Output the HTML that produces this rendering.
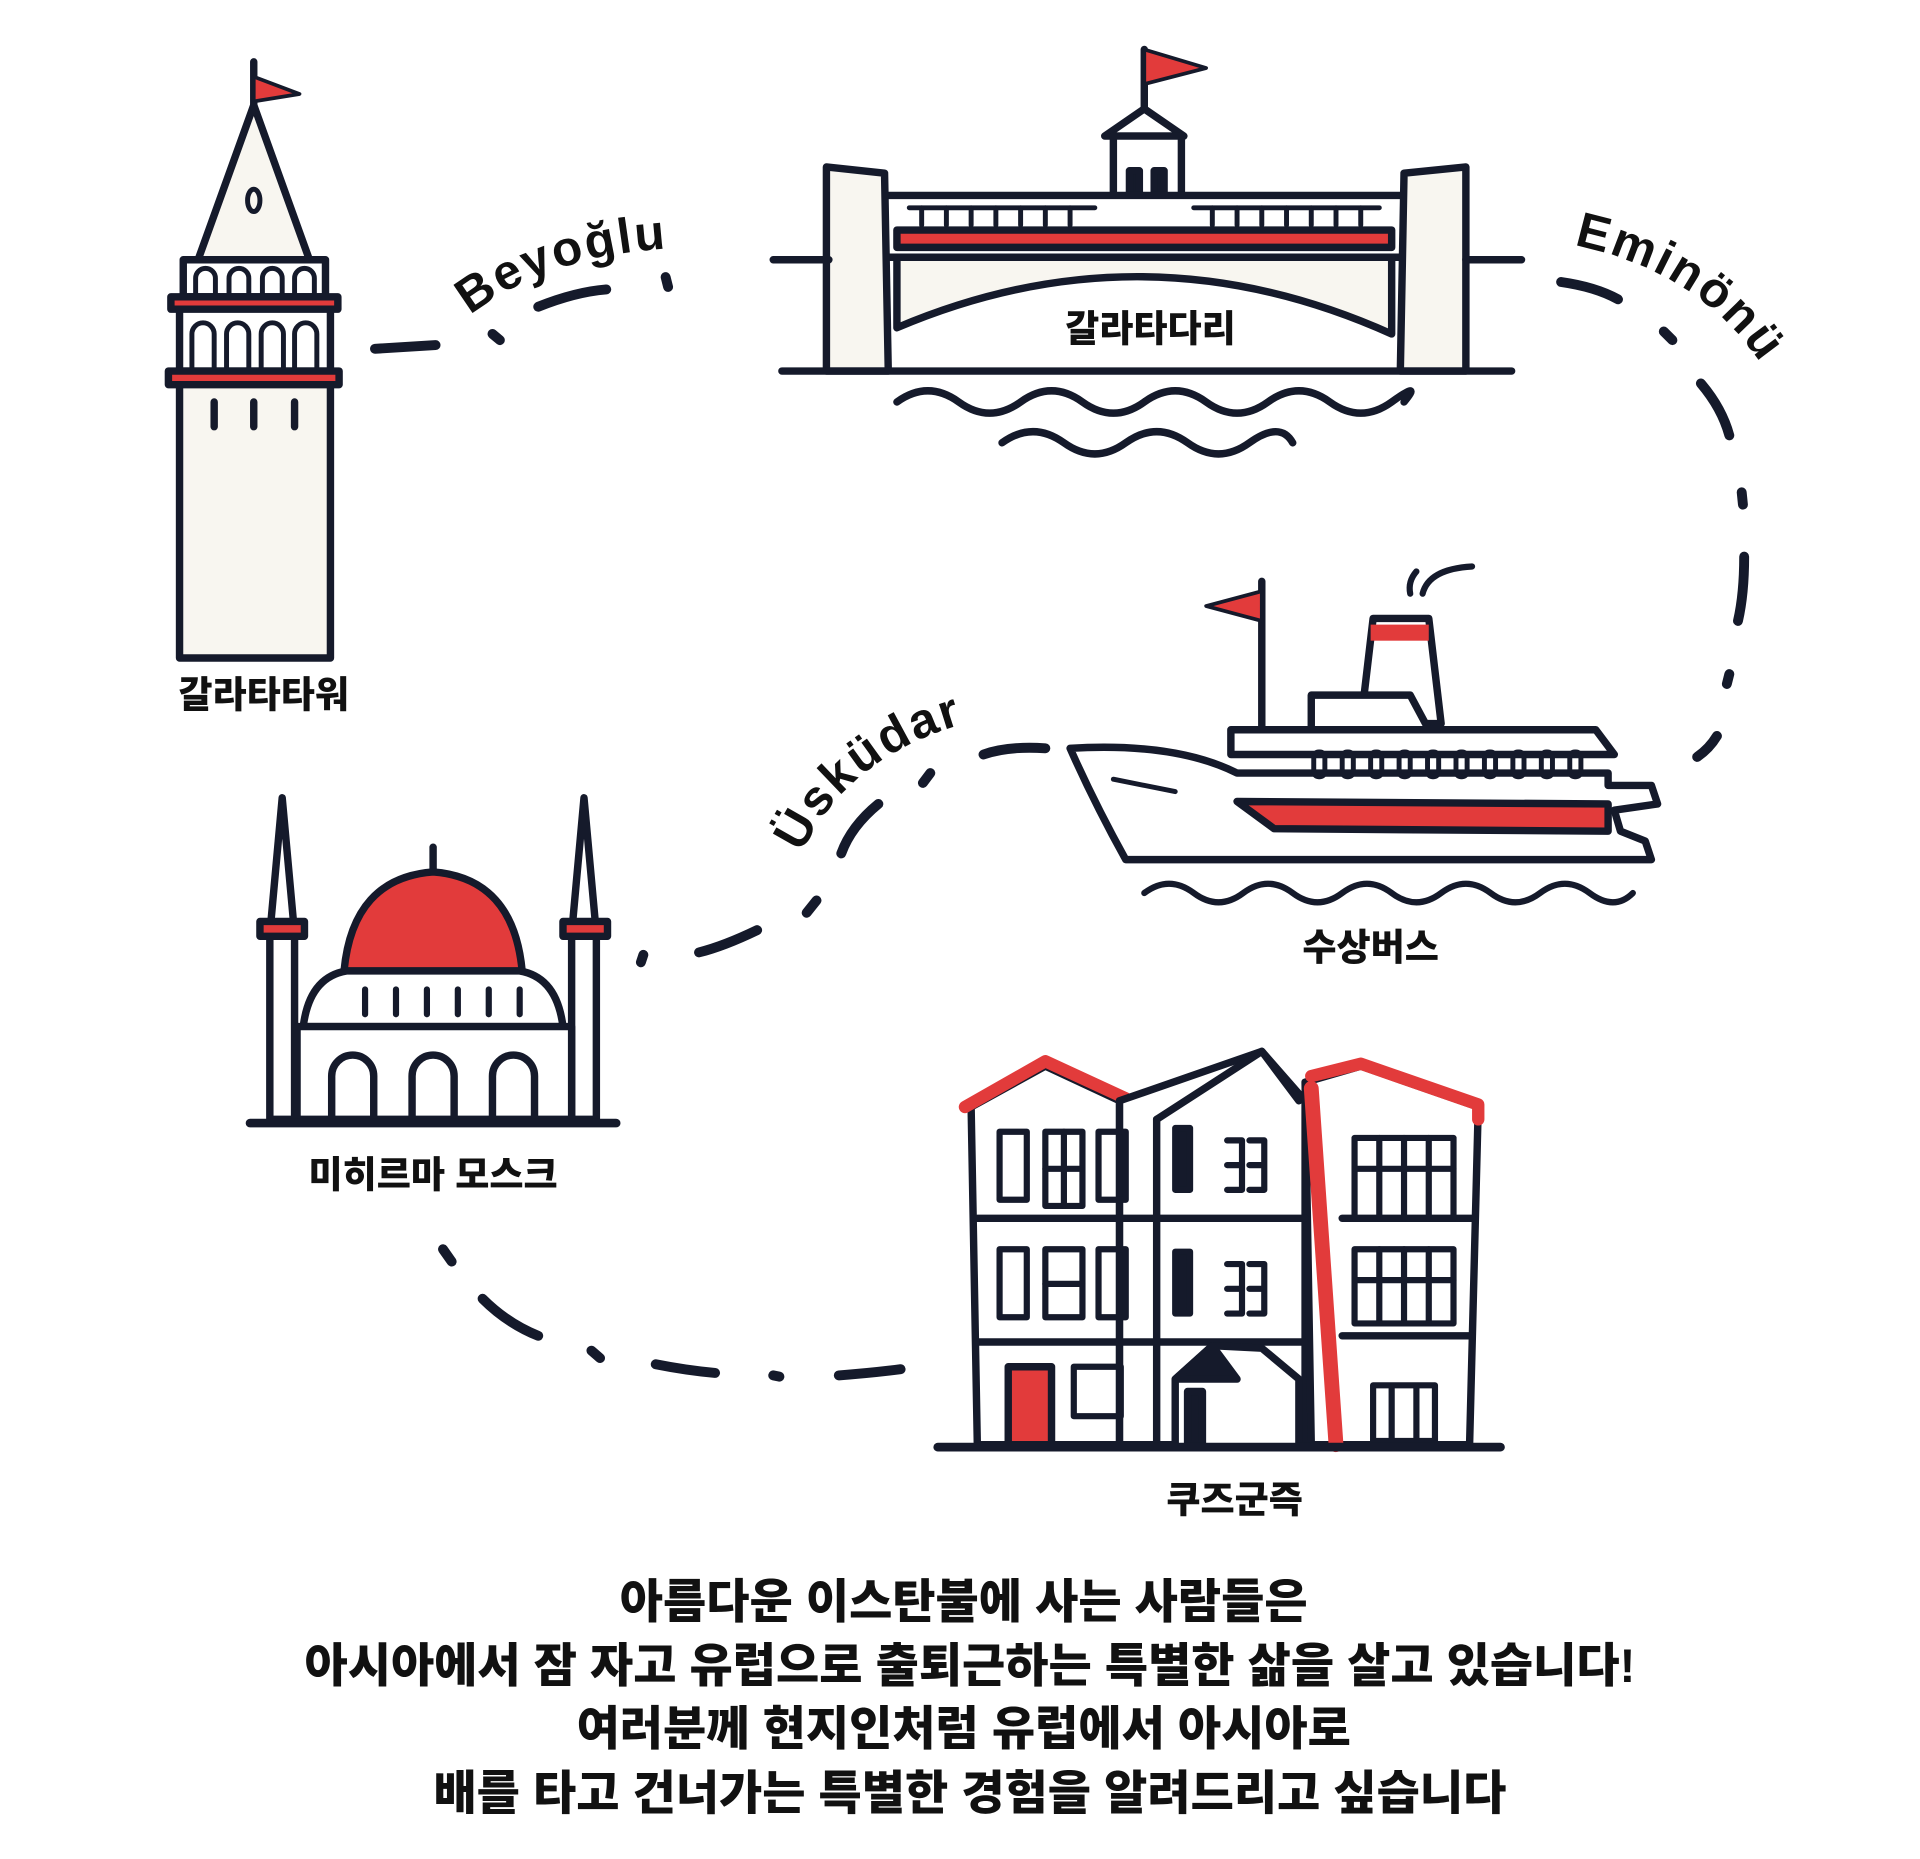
<!DOCTYPE html>
<html><head><meta charset="utf-8"><style>
html,body{margin:0;padding:0;background:#fff;}
svg{display:block}
text{font-family:"Liberation Sans","Noto Sans CJK KR",sans-serif;font-weight:900;fill:#111;}
</style></head><body>
<svg width="1920" height="1859" viewBox="0 0 1552 1503" xmlns="http://www.w3.org/2000/svg">
<defs>
<path id="p1" d="M380 255 Q450 200 570 200"/>
<path id="p2" d="M1272 198 Q1400 225 1445 335"/>
<path id="p3" d="M648 690 Q690 600 810 578"/>
</defs>
<rect width="1552" height="1503" fill="#fff"/>
<g stroke="#151a2b" stroke-width="6" fill="none" stroke-linecap="round" stroke-linejoin="round">
<!-- Galata tower -->
<line x1="205" y1="50" x2="205" y2="85"/>
<path d="M205 62 L242 76 L205 82 Z" fill="#e23b3b" stroke-width="3"/>
<path d="M205 85 L160 210 L250 210 Z" fill="#f8f6f0"/>
<ellipse cx="205" cy="162" rx="5" ry="9" stroke-width="4"/>
<rect x="148" y="210" width="115" height="30" fill="#fff"/>
<path d="M158 240 v-15 a8 8 0 0 1 16 0 v15 M185 240 v-15 a8 8 0 0 1 16 0 v15 M212 240 v-15 a8 8 0 0 1 16 0 v15 M238 240 v-15 a8 8 0 0 1 16 0 v15" stroke-width="4"/>
<rect x="138" y="240" width="135" height="10" fill="#e23b3b"/>
<rect x="145" y="250" width="122" height="50" fill="#fff"/>
<path d="M155 298 v-28 a9 9 0 0 1 18 0 v28 M183 298 v-28 a9 9 0 0 1 18 0 v28 M211 298 v-28 a9 9 0 0 1 18 0 v28 M238 298 v-28 a9 9 0 0 1 18 0 v28" stroke-width="4"/>
<rect x="136" y="300" width="138" height="11" fill="#e23b3b"/>
<rect x="145" y="311" width="122" height="221" fill="#f8f6f0"/>
<path d="M173 325 v20 M205 325 v20 M238 325 v20"/>
<!-- Beyoglu dashes -->
<path d="M303 282 L352 279 M398 270 L404 275 M435 248 Q465 236 490 234 M538 224 L540 232" stroke-width="8"/>
<!-- Bridge -->
<line x1="925" y1="40" x2="925" y2="90"/>
<path d="M925 40 L975 55 L925 68 Z" fill="#e23b3b" stroke-width="3"/>
<path d="M893 110 L925 88 L957 110 Z" fill="#fff"/>
<rect x="900" y="110" width="55" height="75" fill="#fff"/>
<rect x="913" y="138" width="8" height="20" fill="#151a2b"/><rect x="933" y="138" width="8" height="20" fill="#151a2b"/>
<rect x="715" y="158" width="420" height="50" fill="#fff"/>
<path d="M735 168 h150 M965 168 h150" stroke-width="4"/>
<path d="M745 168 v14 M765 168 v14 M785 168 v14 M805 168 v14 M825 168 v14 M845 168 v14 M865 168 v14 M980 168 v14 M1000 168 v14 M1020 168 v14 M1040 168 v14 M1060 168 v14 M1080 168 v14 M1100 168 v14" stroke-width="4"/>
<rect x="725" y="186" width="400" height="14" fill="#e23b3b"/>
<path d="M725 208 L1125 208 L1125 270 Q925 180 725 265 Z" fill="#f8f6f0"/>
<path d="M668 135 L715 140 L718 300 L668 300 Z" fill="#f8f6f0"/>
<path d="M1135 140 L1185 135 L1185 300 L1132 300 Z" fill="#f8f6f0"/>
<path d="M625 210 h45 M1185 210 h45 M632 300 h590"/>
<path d="M725 325 q25 -18 50 0 t50 0 t50 0 t50 0 t50 0 t50 0 t50 0 t50 0 t10 0"/>
<path d="M810 358 q25 -18 50 0 t50 0 t50 0 t50 0 t35 0"/>
<!-- Eminonu dashes -->
<path d="M1262 228 Q1290 232 1308 242 M1345 268 L1352 275 M1375 310 Q1392 330 1398 352 M1408 398 L1409 408 M1410 450 Q1410 480 1405 502 M1398 545 L1396 553 M1388 595 Q1382 605 1372 612" stroke-width="8"/>
<!-- Ferry -->
<line x1="1020" y1="470" x2="1020" y2="590"/>
<path d="M1020 478 L975 490 L1020 502 Z" fill="#e23b3b" stroke-width="3"/>
<path d="M1140 480 q-2 -10 5 -18 M1150 480 q5 -20 40 -22" stroke-width="5"/>
<path d="M1110 500 h45 l10 85 h-65 Z" fill="#fff"/>
<rect x="1108" y="505" width="47" height="13" fill="#e23b3b" stroke="none"/>
<path d="M1060 590 v-28 h80 l15 28 Z" fill="#fff"/>
<path d="M995 610 v-20 h295 l15 20 Z" fill="#fff"/>
<path d="M865 605 Q950 600 1000 625 L1300 625 L1300 635 L1335 635 L1340 650 L1305 655 L1310 672 L1330 680 L1335 695 L910 695 Q885 650 865 605 Z" fill="#fff"/>
<path d="M1000 648 L1300 650 L1300 672 L1030 670 Z" fill="#e23b3b"/>
<g stroke-width="4">
<rect x="1062" y="608" width="9" height="20" rx="4"/><rect x="1085" y="608" width="9" height="20" rx="4"/><rect x="1108" y="608" width="9" height="20" rx="4"/><rect x="1131" y="608" width="9" height="20" rx="4"/><rect x="1154" y="608" width="9" height="20" rx="4"/><rect x="1177" y="608" width="9" height="20" rx="4"/><rect x="1200" y="608" width="9" height="20" rx="4"/><rect x="1223" y="608" width="9" height="20" rx="4"/><rect x="1246" y="608" width="9" height="20" rx="4"/><rect x="1269" y="608" width="9" height="20" rx="4"/>
</g>
<path d="M900 630 L950 640" stroke-width="4"/>
<path d="M925 722 q20 -15 40 0 t40 0 t40 0 t40 0 t40 0 t40 0 t40 0 t40 0 t40 0 t35 0" stroke-width="5"/>
<!-- Uskudar dashes -->
<path d="M845 605 Q815 603 795 610 M752 625 L746 633 M710 650 Q688 668 680 690 M660 728 L652 738 M612 752 Q585 765 565 770 M520 772 L518 778" stroke-width="8"/>
<!-- Mosque -->
<path d="M218 755 L228 645 L238 755 Z" fill="#fff"/>
<path d="M462 755 L472 645 L482 755 Z" fill="#fff"/>
<rect x="218" y="755" width="20" height="150" fill="#fff"/>
<rect x="462" y="755" width="20" height="150" fill="#fff"/>
<rect x="210" y="745" width="36" height="12" fill="#e23b3b"/>
<rect x="455" y="745" width="36" height="12" fill="#e23b3b"/>
<path d="M350 685 v20"/>
<path d="M278 785 Q285 710 350 705 Q415 710 422 785 Z" fill="#e23b3b"/>
<path d="M245 830 Q250 790 280 785 H420 Q450 790 455 830 Z" fill="#fff"/>
<path d="M295 800 v20 M320 800 v20 M345 800 v20 M370 800 v20 M395 800 v20 M420 800 v20" stroke-width="5"/>
<rect x="240" y="830" width="222" height="75" fill="#fff"/>
<path d="M268 905 v-35 a17 17 0 0 1 34 0 v35 M333 905 v-35 a17 17 0 0 1 34 0 v35 M398 905 v-35 a17 17 0 0 1 34 0 v35"/>
<path d="M202 908 h296" stroke-width="7"/>
<!-- Kuzguncuk dashes -->
<path d="M358 1010 L365 1020 M390 1050 Q410 1070 435 1080 M478 1092 L485 1098 M530 1103 Q555 1108 578 1110 M625 1112 L630 1113 M678 1112 Q705 1110 728 1107" stroke-width="8"/>
<!-- Houses -->
<path d="M785 895 L845 862 L905 890 L905 1168 L790 1168 Z" fill="#fff"/>
<path d="M780 895 L845 858 L910 888" stroke="#e23b3b" stroke-width="10"/>
<path d="M905 890 L1020 850 L1055 890 L1055 1168 L905 1168 Z" fill="#fff"/>
<path d="M935 905 L1020 850 L1050 890" />
<path d="M1055 875 L1100 862 L1195 895 L1188 1168 L1060 1168 Z" fill="#fff"/>
<path d="M1060 870 L1100 860 L1195 893 L1195 905" stroke="#e23b3b" stroke-width="10"/>
<path d="M1060 880 L1080 1168" stroke="#e23b3b" stroke-width="12"/>
<path d="M790 985 h265 M790 1085 h265 M935 905 v263 M1085 985 h105 M1085 1080 h105"/>
<g stroke-width="5">
<rect x="808" y="915" width="22" height="55"/><rect x="845" y="915" width="30" height="60"/><path d="M845 945 h30 M860 915 v60"/><rect x="888" y="915" width="22" height="55"/>
<rect x="808" y="1010" width="22" height="55"/><rect x="845" y="1010" width="30" height="55"/><path d="M845 1038 h30"/><rect x="888" y="1010" width="22" height="55"/>
<rect x="950" y="912" width="12" height="50" fill="#151a2b"/><rect x="950" y="1012" width="12" height="50" fill="#151a2b"/>
<path d="M992 922 h12 v40 h-12 M1010 922 h12 v40 h-12 M992 942 h12 M1010 942 h12"/>
<path d="M992 1022 h12 v40 h-12 M1010 1022 h12 v40 h-12 M992 1042 h12 M1010 1042 h12"/>
<rect x="1095" y="920" width="80" height="65"/><path d="M1115 920 v65 M1135 920 v65 M1155 920 v65 M1095 945 h80"/>
<rect x="1095" y="1010" width="80" height="60"/><path d="M1115 1010 v60 M1135 1010 v60 M1155 1010 v60 M1095 1035 h80"/>
<rect x="868" y="1105" width="38" height="40"/>
<path d="M1110 1120 h50 v45 h-50 Z M1125 1120 v45 M1145 1120 v45"/>
</g>
<rect x="815" y="1105" width="35" height="63" fill="#e23b3b"/>
<path d="M950 1168 V1115 L980 1088 L1020 1090 L1050 1115 V1168" fill="#fff"/>
<path d="M950 1115 L980 1088 L1000 1115 Z" fill="#151a2b"/>
<rect x="960" y="1125" width="12" height="43" fill="#151a2b"/>
<path d="M758 1170 h455" stroke-width="7"/>
</g>
<!-- Curved labels -->
<text font-size="40" letter-spacing="2"><textPath href="#p1">Beyoğlu</textPath></text>
<text font-size="40" letter-spacing="2"><textPath href="#p2">Eminönü</textPath></text>
<text font-size="40" letter-spacing="2"><textPath href="#p3">Üsküdar</textPath></text>
<!-- node labels -->
<g font-size="30" text-anchor="middle">
<text x="213" y="572">갈라타타워</text>
<text x="930" y="276">갈라타다리</text>
<text x="1108" y="776">수상버스</text>
<text x="350" y="960">미히르마 모스크</text>
<text x="998" y="1223">쿠즈군즉</text>
</g>
<g font-size="38" text-anchor="middle">
<text x="779" y="1308">아름다운 이스탄불에 사는 사람들은</text>
<text x="784" y="1360">아시아에서 잠 자고 유럽으로 출퇴근하는 특별한 삶을 살고 있습니다!</text>
<text x="779" y="1411">여러분께 현지인처럼 유럽에서 아시아로</text>
<text x="784" y="1463">배를 타고 건너가는 특별한 경험을 알려드리고 싶습니다</text>
</g>
</svg>
</body></html>
